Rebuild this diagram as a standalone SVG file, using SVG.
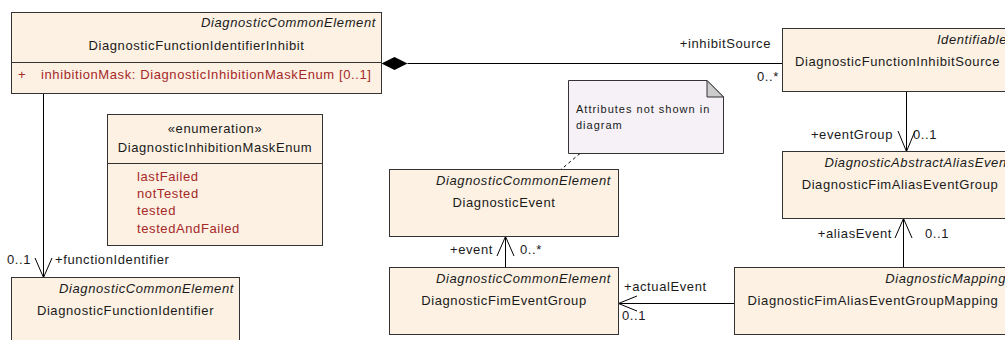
<svg xmlns="http://www.w3.org/2000/svg" width="1005" height="340" viewBox="0 0 1005 340">
<style>
.box{fill:#FCF1E3;stroke:#333;stroke-width:1}
.sep{stroke:#333;stroke-width:1}
.t{font-family:"Liberation Sans",Arial,sans-serif;font-size:13px;letter-spacing:0.6px;fill:#1a1a1a}
.it{font-style:italic}
.red{fill:#A62828}
.mid{text-anchor:middle}
.end{text-anchor:end}
.ln{stroke:#000;stroke-width:1;fill:none}
.note{fill:#F5F1F6;stroke:#333;stroke-width:1}
.fold{fill:#CCCCCC;stroke:#333;stroke-width:1}
.nt{font-family:"Liberation Sans",Arial,sans-serif;font-size:11px;letter-spacing:1px;fill:#1a1a1a}
</style>
<rect width="1005" height="340" fill="#fff"/>

<g id="connectors">
  <polygon points="381.5,63.5 394.5,57 407.5,63.5 394.5,70" fill="#000"/>
  <line class="ln" x1="407.5" y1="63.5" x2="782.5" y2="63.5"/>
  <line class="ln" x1="43.5" y1="93.5" x2="43.5" y2="277.5"/>
  <polyline class="ln" points="35,258 43.5,277.5 52,258"/>
  <line class="ln" x1="906.5" y1="91.5" x2="906.5" y2="151.5"/>
  <polyline class="ln" points="898,131 906.5,151.5 915,131"/>
  <line class="ln" x1="903.5" y1="267.5" x2="903.5" y2="218.5"/>
  <polyline class="ln" points="895,238 903.5,218.5 912,238"/>
  <line class="ln" x1="505.5" y1="267.5" x2="505.5" y2="236.5"/>
  <polyline class="ln" points="497,256 505.5,236.5 514,256"/>
  <line class="ln" x1="734.5" y1="303.5" x2="618.5" y2="303.5"/>
  <polyline class="ln" points="637,296 618.5,303.5 637,311"/>
  <line class="ln" x1="580" y1="153.5" x2="561" y2="169.5" stroke-dasharray="3,3"/>
  <text class="t end" x="771" y="48">+inhibitSource</text>
  <text class="t" x="757" y="81">0..*</text>
  <text class="t" x="7" y="264">0..1</text>
  <text class="t" x="55" y="264">+functionIdentifier</text>
  <text class="t end" x="893" y="139">+eventGroup</text>
  <text class="t" x="913" y="139">0..1</text>
  <text class="t end" x="892" y="238">+aliasEvent</text>
  <text class="t" x="925" y="238">0..1</text>
  <text class="t end" x="493" y="254">+event</text>
  <text class="t" x="520" y="254">0..*</text>
  <text class="t" x="624" y="291">+actualEvent</text>
  <text class="t" x="622" y="320">0..1</text>
</g>

<g id="DiagnosticFunctionIdentifierInhibit">
  <rect class="box" x="11.5" y="12.5" width="370" height="81"/>
  <line class="sep" x1="11.5" y1="62.5" x2="381.5" y2="62.5"/>
  <text class="t it end" x="376" y="27">DiagnosticCommonElement</text>
  <text class="t mid" x="196.5" y="50">DiagnosticFunctionIdentifierInhibit</text>
  <text class="t red" x="18" y="79">+</text>
  <text class="t red" x="41" y="79">inhibitionMask: DiagnosticInhibitionMaskEnum [0..1]</text>
</g>

<g id="DiagnosticInhibitionMaskEnum">
  <rect class="box" x="107.5" y="114.5" width="215" height="131"/>
  <line class="sep" x1="107.5" y1="163.5" x2="322.5" y2="163.5"/>
  <text class="t mid" x="215" y="133">«enumeration»</text>
  <text class="t mid" x="215" y="152">DiagnosticInhibitionMaskEnum</text>
  <text class="t red" x="137" y="181">lastFailed</text>
  <text class="t red" x="137" y="198">notTested</text>
  <text class="t red" x="137" y="215">tested</text>
  <text class="t red" x="137" y="233">testedAndFailed</text>
</g>

<g id="DiagnosticFunctionIdentifier">
  <rect class="box" x="11.5" y="277.5" width="228" height="70"/>
  <text class="t it end" x="234" y="293">DiagnosticCommonElement</text>
  <text class="t mid" x="125.5" y="315">DiagnosticFunctionIdentifier</text>
</g>

<g id="Note">
  <path class="note" d="M568.5,80.5 H707 L723.5,97 V153.5 H568.5 Z"/>
  <path class="fold" d="M707,80.5 V97 H723.5 Z"/>
  <text class="nt" x="576" y="113">Attributes not shown in</text>
  <text class="nt" x="576" y="129">diagram</text>
</g>

<g id="DiagnosticEvent">
  <rect class="box" x="389.5" y="169.5" width="229" height="67"/>
  <text class="t it end" x="611" y="185">DiagnosticCommonElement</text>
  <text class="t mid" x="504" y="206.5">DiagnosticEvent</text>
</g>

<g id="DiagnosticFimEventGroup">
  <rect class="box" x="389.5" y="267.5" width="229" height="67"/>
  <text class="t it end" x="611" y="283">DiagnosticCommonElement</text>
  <text class="t mid" x="504" y="305">DiagnosticFimEventGroup</text>
</g>

<g id="DiagnosticFunctionInhibitSource">
  <rect class="box" x="782.5" y="28.5" width="230" height="63"/>
  <text class="t it end" x="1007" y="43.5">Identifiable</text>
  <text class="t mid" x="897.5" y="66">DiagnosticFunctionInhibitSource</text>
</g>

<g id="DiagnosticFimAliasEventGroup">
  <rect class="box" x="782.5" y="151.5" width="234" height="67"/>
  <text class="t it end" x="1011" y="167">DiagnosticAbstractAliasEvent</text>
  <text class="t mid" x="900" y="189">DiagnosticFimAliasEventGroup</text>
</g>

<g id="DiagnosticFimAliasEventGroupMapping">
  <rect class="box" x="734.5" y="267.5" width="277" height="67"/>
  <text class="t it end" x="1006" y="283">DiagnosticMapping</text>
  <text class="t mid" x="873" y="305">DiagnosticFimAliasEventGroupMapping</text>
</g>
</svg>
